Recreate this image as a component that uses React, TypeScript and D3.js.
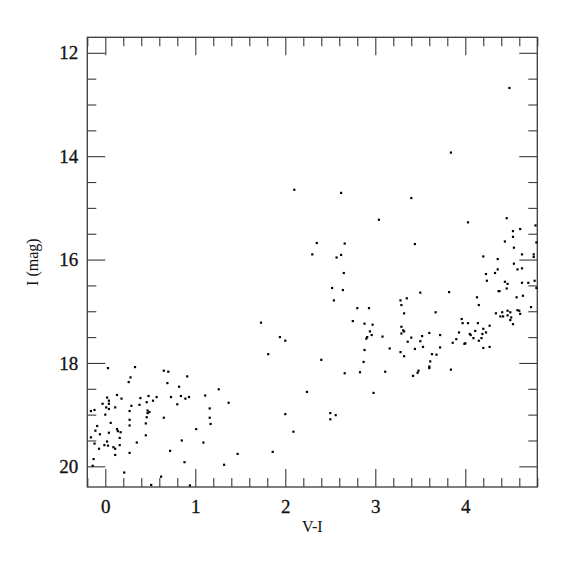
import { useEffect, useRef } from 'react';
import * as d3 from 'd3';

// V-I colour and I magnitude for each star
const colorVI = [
  0.03, 0.33, 0.28, 0.26, 0.65, 0.70, 0.69, 0.91, 0.82, 1.26, 0.13, 0.02, 0.18, 0.04, -0.03, 0.04, 0.01, 0.04, 0.11, 0.00,
  -0.16, -0.12, 0.39, 0.48, 0.57, 0.53, 0.46, 0.38, 0.29, 0.27, 0.47, 0.49, 0.47, 0.46, 0.27, 0.27, 0.45, 0.65, 0.73, 0.84,
  0.89, 0.93, 0.80, 1.11, 1.16, 1.16, 1.17, 1.37, 0.06, -0.09, -0.11, -0.06, 0.13, 0.14, 0.17, 0.04, 0.16, -0.16, -0.12, 0.02,
  -0.01, 0.03, -0.07, 0.09, 0.11, 0.16, 0.11, 0.35, 0.45, 0.27, 0.85, 1.01, 1.09, 0.72, 0.88, -0.13, -0.14, 1.32, 1.47, 0.21,
  0.62, 0.51, 0.94,
  1.94, 2.00, 1.81, 2.40, 2.24, 2.00, 2.09, 1.86, 2.50, 2.56, 2.50, 2.66, 2.83, 2.87, 2.88, 2.90, 2.91, 2.94, 2.96, 3.08,
  3.11, 2.98, 3.16, 2.10, 2.62, 3.04, 2.35, 2.66, 2.30, 2.62, 2.57, 2.65, 2.52, 2.64, 2.54, 2.80, 2.93, 1.73, 2.75, 2.88,
  2.97,
  3.84, 3.40, 4.03, 3.44, 4.46, 4.78, 4.53, 4.61, 4.53, 4.44, 4.79, 4.54, 4.63, 4.76, 4.76, 4.20, 4.36, 4.54, 4.63, 4.58,
  4.36, 4.23, 4.33, 4.24, 4.44, 4.47, 4.63, 4.70, 4.77, 4.79, 4.46, 4.37, 4.38, 3.50, 3.82, 4.13, 4.57, 4.64, 3.35, 3.28,
  3.29, 4.15, 4.73, 3.32, 3.67, 4.34, 4.41, 4.47, 4.58, 4.60, 4.61, 4.50, 4.39, 4.42, 4.47, 4.51, 4.50, 4.53, 3.96, 3.97,
  4.03, 4.14, 4.27, 4.20, 4.23, 4.19, 4.11, 4.05, 4.06, 3.93, 3.90, 4.09, 4.18, 3.60, 3.72, 3.52, 3.40, 3.29, 3.29, 3.31,
  3.32, 4.49,
  4.15, 3.86, 3.99, 4.00, 3.50, 3.36, 3.44, 3.53, 3.72, 4.20, 4.27, 3.28, 3.32, 3.63, 3.68, 3.61, 3.60, 3.60, 3.84, 3.48,
  3.47, 3.42,
];

const magI = [
  18.10, 18.08, 18.28, 18.37, 18.15, 18.17, 18.39, 18.26, 18.46, 18.51, 18.62, 18.67, 18.69, 18.73, 18.79, 18.79, 18.86, 18.89, 18.86, 19.00,
  18.93, 18.91, 18.68, 18.64, 18.66, 18.73, 18.76, 18.81, 18.83, 18.93, 18.92, 18.95, 18.97, 19.05, 19.10, 19.21, 19.17, 19.06, 18.66, 18.64,
  18.69, 18.66, 18.80, 18.63, 18.88, 19.06, 19.18, 18.77, 19.16, 19.22, 19.31, 19.38, 19.28, 19.32, 19.34, 19.35, 19.45, 19.44, 19.56, 19.52,
  19.59, 19.60, 19.66, 19.63, 19.66, 19.59, 19.78, 19.54, 19.40, 19.74, 19.50, 19.28, 19.54, 19.70, 19.92, 19.86, 19.99, 19.97, 19.76, 20.12,
  20.20, 20.36, 20.37,
  17.50, 17.57, 17.83, 17.94, 18.56, 18.99, 19.33, 19.72, 18.97, 19.01, 19.09, 18.20, 18.18, 17.98, 17.75, 17.53, 17.50, 17.39, 17.46, 17.49,
  18.17, 18.58, 17.72, 14.65, 14.71, 15.23, 15.68, 15.69, 15.90, 15.91, 15.96, 16.26, 16.55, 16.59, 16.79, 16.94, 16.94, 17.22, 17.19, 17.24,
  17.26,
  13.93, 14.81, 15.28, 15.70, 15.20, 15.34, 15.45, 15.41, 15.56, 15.65, 15.67, 15.77, 15.90, 15.90, 15.95, 15.94, 15.99, 16.08, 16.17, 16.19,
  16.19, 16.28, 16.26, 16.41, 16.43, 16.47, 16.45, 16.45, 16.41, 16.55, 16.56, 16.61, 16.61, 16.64, 16.63, 16.73, 16.73, 16.70, 16.75, 16.79,
  16.88, 16.88, 16.92, 17.04, 17.02, 17.04, 17.02, 16.99, 16.98, 16.99, 17.05, 17.02, 17.10, 17.10, 17.08, 17.12, 17.17, 17.25, 17.15, 17.23,
  17.23, 17.23, 17.28, 17.34, 17.41, 17.44, 17.38, 17.44, 17.46, 17.41, 17.54, 17.52, 17.52, 17.42, 17.46, 17.48, 17.51, 17.30, 17.43, 17.37,
  17.39, 12.68,
  17.57, 17.61, 17.63, 17.62, 17.58, 17.59, 17.73, 17.69, 17.70, 17.71, 17.69, 17.79, 17.87, 17.83, 17.84, 17.97, 18.07, 18.10, 18.13, 18.15,
  18.19, 18.25,
];

const xMajorTicks = [0, 1, 2, 3, 4];
const yMajorTicks = [12, 14, 16, 18, 20];
const xLabel = 'V-I';
const yLabel = 'I (mag)';

function App() {
  const svgRef = useRef<SVGSVGElement>(null);

  useEffect(() => {
    const W = 575;
    const H = 575;
    const left = 87.3;
    const right = 537.3;
    const top = 37.3;
    const bottom = 487;
    const font = "'Liberation Serif', serif";
    const ink = '#3a3a3a';

    const svg = d3.select(svgRef.current).attr('width', W).attr('height', H);
    svg.selectAll('*').remove();

    const x = d3.scaleLinear().domain([-0.2, 4.8]).range([left, right]);
    const y = d3.scaleLinear().domain([11.7, 20.4]).range([top, bottom]);

    const xMinor = d3.range(-0.2, 4.81, 0.2).map((d) => +d.toFixed(1)).filter((d) => !xMajorTicks.includes(d));
    const yMinor = d3.range(12, 20.41, 0.5).filter((d) => !yMajorTicks.includes(d));

    const styleAxis = (g: any) => {
      g.select('.domain').remove();
      g.selectAll('line').attr('stroke', ink).attr('stroke-width', 1.1);
      g.selectAll('text')
        .attr('fill', '#111')
        .style('font-family', font)
        .style('font-size', '19px')
        .attr('stroke', '#111')
        .attr('stroke-width', 0.3);
    };

    // bottom axis: labelled major ticks, plus minor
    svg.append('g').attr('transform', `translate(0,${bottom})`)
      .call(d3.axisBottom(x).tickValues(xMajorTicks).tickSize(-18).tickPadding(13).tickFormat(d3.format('d')))
      .call(styleAxis);
    svg.append('g').attr('transform', `translate(0,${bottom})`)
      .call(d3.axisBottom(x).tickValues(xMinor).tickSize(-9).tickFormat(() => ''))
      .call(styleAxis);
    // top axis, no labels
    svg.append('g').attr('transform', `translate(0,${top})`)
      .call(d3.axisTop(x).tickValues(xMajorTicks).tickSize(-18).tickFormat(() => ''))
      .call(styleAxis);
    svg.append('g').attr('transform', `translate(0,${top})`)
      .call(d3.axisTop(x).tickValues(xMinor).tickSize(-9).tickFormat(() => ''))
      .call(styleAxis);

    // left axis
    svg.append('g').attr('transform', `translate(${left},0)`)
      .call(d3.axisLeft(y).tickValues(yMajorTicks).tickSize(-18).tickPadding(9).tickFormat(d3.format('d')))
      .call(styleAxis);
    svg.append('g').attr('transform', `translate(${left},0)`)
      .call(d3.axisLeft(y).tickValues(yMinor).tickSize(-9).tickFormat(() => ''))
      .call(styleAxis);
    // right axis
    svg.append('g').attr('transform', `translate(${right},0)`)
      .call(d3.axisRight(y).tickValues(yMajorTicks).tickSize(-18).tickFormat(() => ''))
      .call(styleAxis);
    svg.append('g').attr('transform', `translate(${right},0)`)
      .call(d3.axisRight(y).tickValues(yMinor).tickSize(-9).tickFormat(() => ''))
      .call(styleAxis);

    // frame
    svg.append('rect')
      .attr('x', left).attr('y', top)
      .attr('width', right - left).attr('height', bottom - top)
      .attr('fill', 'none').attr('stroke', ink).attr('stroke-width', 1.3);

    // stars
    const pts = colorVI.map((v, i) => ({ v, m: magI[i] }));
    svg.append('g')
      .selectAll('rect')
      .data(pts)
      .enter()
      .append('rect')
      .attr('x', (d) => x(d.v) - 1.1)
      .attr('y', (d) => y(d.m) - 1.1)
      .attr('width', 2.2)
      .attr('height', 2.2)
      .attr('fill', '#000');

    // axis titles
    svg.append('text')
      .attr('x', (left + right) / 2).attr('y', 531.5)
      .attr('text-anchor', 'middle')
      .style('font-family', font).style('font-size', '16px').attr('fill', '#111')
      .text(xLabel);
    svg.append('text')
      .attr('transform', `translate(38,${(top + bottom) / 2}) rotate(-90)`)
      .attr('text-anchor', 'middle')
      .style('font-family', font).style('font-size', '16px').attr('fill', '#111')
      .text(yLabel);
  }, []);

  return (
    <div style={{ position: 'absolute', left: 0, top: 0 }}>
      <svg ref={svgRef}></svg>
    </div>
  );
}

export default App;
